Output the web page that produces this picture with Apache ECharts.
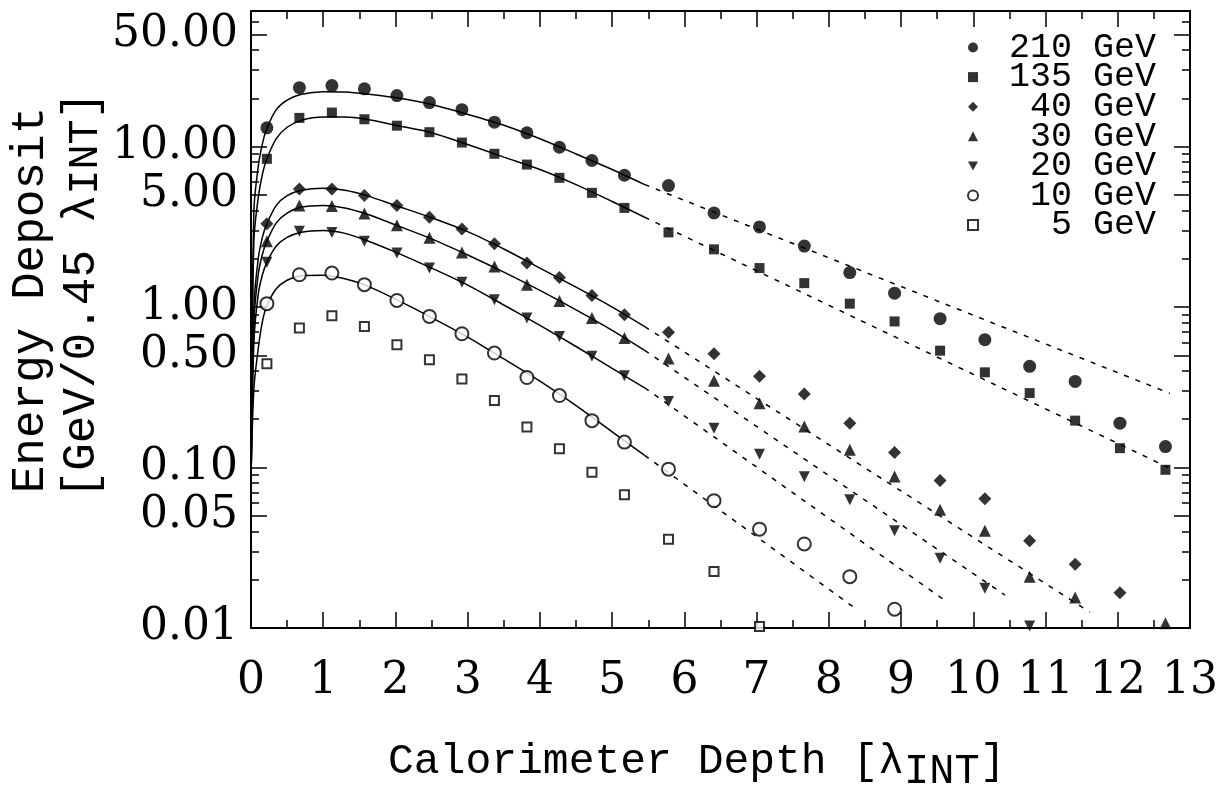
<!DOCTYPE html>
<html>
<head>
<meta charset="utf-8">
<script src="https://cdn.jsdelivr.net/npm/echarts@6/dist/echarts.min.js"></script>
<style>
html,body{margin:0;padding:0;background:#fff;}
#main{width:1221px;height:791px;}
</style>
</head>
<body>
<div id="main"></div>
<script>
// ---------------- data ----------------
const depth = [0.22,0.67,1.12,1.57,2.02,2.47,2.92,3.37,3.82,4.27,4.72,5.17,5.78,6.41,7.04,7.66,8.29,8.91,9.54,10.16,10.78,11.41,12.03,12.66];

const e210 = [13.1,23.3,24.0,22.9,20.8,18.8,17.0,14.2,12.2,9.91,8.19,6.63,5.72,3.86,3.16,2.40,1.64,1.22,0.847,0.626,0.427,0.344,0.189,0.135];
const e135 = [8.39,15.1,16.3,14.8,13.5,12.3,10.6,9.02,7.73,6.39,5.15,4.15,2.92,2.29,1.75,1.41,1.05,0.814,0.535,0.392,0.291,0.196,0.132,0.0968];
const e40  = [3.31,5.45,5.45,4.95,4.29,3.63,3.07,2.48,1.88,1.53,1.18,0.897,0.697,0.512,0.370,0.287,0.189,0.124,0.083,0.0638,0.035,0.025,0.0166,null];
const e30  = [2.57,4.29,4.26,3.83,3.23,2.70,2.19,1.79,1.38,1.09,0.855,0.642,0.478,0.347,0.252,0.180,0.129,0.0879,0.0545,0.0403,0.0209,0.0155,null,0.0107];
const e20  = [1.90,2.97,2.92,2.57,2.17,1.75,1.43,1.11,0.855,0.656,0.493,0.373,0.258,0.176,0.121,0.0877,0.0629,0.0403,0.0272,0.0177,0.0103,null,null,null];
const e10  = [1.05,1.59,1.63,1.38,1.10,0.875,0.682,0.517,0.364,0.281,0.196,0.144,0.0977,0.0622,0.0413,0.0334,0.0209,0.0131,null,null,null,null,null,null];
const e5   = [0.444,0.741,0.884,0.758,0.582,0.470,0.356,0.262,0.179,0.131,0.0936,0.0676,0.0357,0.0225,0.0102,null,null,null,null,null,null,null,null,null];

// fitted curves (solid part)
const fitDepth = [0.004,0.04,0.1,0.16,0.22,0.35,0.5,0.7,1.0,1.3,1.6,2.0,2.5,3.0,3.5,4.0,4.5,5.0,5.45];
const fit210 = [0.12,4.0,7.5,10.5,13.0,17.0,19.5,21.2,22.0,21.9,21.3,20.2,18.3,15.9,13.6,11.2,9.0,7.2,5.8];
const fit135 = [0.12,2.6,4.8,6.8,8.4,11.2,13.2,14.6,15.3,15.3,14.8,13.6,12.2,10.3,8.6,7.2,5.8,4.55,3.63];
const fit40  = [0.11,1.0,2.0,2.75,3.3,4.3,4.95,5.35,5.5,5.35,4.95,4.3,3.6,2.95,2.3,1.75,1.33,1.0,0.756];
const fit30  = [0.11,0.8,1.6,2.15,2.57,3.35,3.85,4.2,4.3,4.15,3.8,3.25,2.66,2.11,1.65,1.27,0.96,0.716,0.537];
const fit20  = [0.1,0.6,1.2,1.6,1.9,2.4,2.72,2.93,3.0,2.88,2.6,2.2,1.75,1.37,1.03,0.769,0.568,0.415,0.314];
const fit10  = [0.1,0.31,0.55,0.82,1.02,1.3,1.47,1.57,1.58,1.5,1.36,1.12,0.86,0.65,0.475,0.345,0.243,0.167,0.119];

// dashed extrapolations (start / end)
const tailDepth210 = [5.45,12.72]; const tail210 = [5.8,0.29];
const tailDepth135 = [5.45,12.70]; const tail135 = [3.63,0.1];
const tailDepth40  = [5.45,11.61]; const tail40  = [0.756,0.0126];
const tailDepth30  = [5.45,10.44]; const tail30  = [0.537,0.016];
const tailDepth20  = [5.45,9.63];  const tail20  = [0.314,0.0146];
const tailDepth10  = [5.45,8.36];  const tail10  = [0.119,0.0133];

const seriesNames = ['210 GeV','135 GeV','40 GeV','30 GeV','20 GeV','10 GeV','5 GeV'];
const yMajorTicks = [0.01,0.05,0.1,0.5,1,5,10,50];
const yMinorTicks = [0.02,0.03,0.04,0.06,0.07,0.08,0.09,0.2,0.3,0.4,0.6,0.7,0.8,0.9,2,3,4,6,7,8,9,20,30,40,60];

// ---------------- building the chart ----------------
function pairs(xs, ys){const out=[];for(let i=0;i<xs.length;i++){if(ys[i]!=null)out.push([xs[i],ys[i]]);}return out;}

const downTri = 'path://M0,0L10,0L5,9Z';
const groups = [
  {name:seriesNames[0], pts:e210, fit:fit210, tx:tailDepth210, ty:tail210},
  {name:seriesNames[1], pts:e135, fit:fit135, tx:tailDepth135, ty:tail135},
  {name:seriesNames[2], pts:e40,  fit:fit40,  tx:tailDepth40,  ty:tail40},
  {name:seriesNames[3], pts:e30,  fit:fit30,  tx:tailDepth30,  ty:tail30},
  {name:seriesNames[4], pts:e20,  fit:fit20,  tx:tailDepth20,  ty:tail20},
  {name:seriesNames[5], pts:e10,  fit:fit10,  tx:tailDepth10,  ty:tail10},
  {name:seriesNames[6], pts:e5,   fit:null,   tx:null,         ty:null}
];
const looks = [
  {symbol:'circle', size:13, empty:false},
  {symbol:'rect', size:10, empty:false},
  {symbol:'diamond', size:13, empty:false},
  {symbol:'triangle', size:12, empty:false},
  {symbol:downTri, size:11, empty:false},
  {symbol:'emptyCircle', size:13, empty:true},
  {symbol:'emptyRect', size:9, empty:true}
];

const series = [];
groups.forEach((g,i)=>{
  const lk = looks[i];
  series.push({
    type:'scatter', name:g.name, data:pairs(depth,g.pts),
    symbol:lk.symbol, symbolSize:lk.size, z:4,
    itemStyle:{color:'#000', borderColor:'#000', borderWidth: lk.empty?1.6:0},
    emphasis:{disabled:true}
  });
});
groups.forEach((g)=>{
  if(!g.fit) return;
  series.push({
    type:'line', name:g.name, data:pairs(fitDepth,g.fit), smooth:0.3,
    symbol:'none', showSymbol:false, z:3,
    lineStyle:{color:'#000', width:1.5}, itemStyle:{color:'#000'}, emphasis:{disabled:true}
  });
  series.push({
    type:'line', name:g.name, data:pairs(g.tx,g.ty),
    symbol:'none', showSymbol:false, z:3,
    lineStyle:{color:'#000', width:1.5, type:[5,7]}, itemStyle:{color:'#000'}, emphasis:{disabled:true}
  });
});

const axisLineStyle = {color:'#000', width:2};
const tickStyle = {color:'#000', width:1.5};
const xBase = {
  type:'value', min:0, max:13, interval:1,
  splitLine:{show:false},
  axisLine:{show:true, onZero:false, lineStyle:axisLineStyle},
  axisTick:{show:true, inside:true, length:16, lineStyle:tickStyle},
  minorTick:{show:true, splitNumber:2, length:8, lineStyle:tickStyle},
  minorSplitLine:{show:false}
};
const yBase = {
  type:'log', logBase:10, min:0.01, max:70,
  splitLine:{show:false}, minorTick:{show:false},
  axisLine:{show:true, onZero:false, lineStyle:axisLineStyle}
};
const yMajTick = {show:true, inside:true, length:16, customValues:yMajorTicks, lineStyle:tickStyle};
const yMinTick = {show:true, inside:true, length:8, customValues:yMinorTicks, lineStyle:tickStyle};

const option = {
  animation:false,
  backgroundColor:'#fff',
  grid:{left:251, right:29, top:11, bottom:163, containLabel:false},
  xAxis:[
    Object.assign({}, xBase, {position:'bottom',
      axisLabel:{show:true, fontFamily:'DejaVu Serif', fontSize:44, color:'#000', margin:32, showMinLabel:true, showMaxLabel:true}}),
    Object.assign({}, xBase, {position:'top', axisLabel:{show:false}})
  ],
  yAxis:[
    Object.assign({}, yBase, {position:'left', axisTick:yMajTick,
      axisLabel:{show:true, customValues:yMajorTicks, formatter:(v)=>Number(v).toFixed(2),
        fontFamily:'DejaVu Serif', fontSize:44, color:'#000', margin:13}}),
    Object.assign({}, yBase, {position:'left', axisTick:yMinTick, axisLabel:{show:false}}),
    Object.assign({}, yBase, {position:'right', axisTick:yMajTick, axisLabel:{show:false}}),
    Object.assign({}, yBase, {position:'right', axisTick:yMinTick, axisLabel:{show:false}})
  ],
  legend:{
    orient:'vertical', left:967, top:30, padding:0, itemGap:-5.4,
    itemWidth:10, itemHeight:10, align:'left',
    selectedMode:true,
    data:[
      {name:seriesNames[0], icon:'circle'},
      {name:seriesNames[1], icon:'rect'},
      {name:seriesNames[2], icon:'diamond'},
      {name:seriesNames[3], icon:'triangle'},
      {name:seriesNames[4], icon:downTri},
      {name:seriesNames[5], icon:'emptyCircle'},
      {name:seriesNames[6], icon:'emptyRect'}
    ],
    formatter:(n)=>n.padStart(7,' '),
    textStyle:{fontFamily:'Liberation Mono', fontSize:35, color:'#000', padding:[0,0,0,26]}
  },
  graphic:[
    {type:'text', x:31, y:300, rotation:Math.PI/2, silent:true,
      style:{text:'Energy Deposit', fontFamily:'Liberation Mono', fontSize:46, fill:'#000', align:'center', verticalAlign:'middle'}},
    {type:'text', x:82, y:295, rotation:Math.PI/2, silent:true,
      style:{text:'[GeV/0.45 λ{s|INT}]', fontFamily:'Liberation Mono', fontSize:46, fill:'#000', align:'center', verticalAlign:'middle',
        rich:{s:{fontFamily:'Liberation Mono', fontSize:42, fill:'#000', padding:[8,0,0,0]}}}},
    {type:'text', x:388, y:762, silent:true,
      style:{text:'Calorimeter Depth [λ{s|INT}]', fontFamily:'Liberation Mono', fontSize:43, fill:'#000', align:'left', verticalAlign:'middle',
        rich:{s:{fontFamily:'Liberation Mono', fontSize:42, fill:'#000', padding:[20,0,0,0]}}}}
  ],
  series:series
};

const chart = echarts.init(document.getElementById('main'), null, {renderer:'canvas'});
chart.setOption(option);
</script>
</body>
</html>
